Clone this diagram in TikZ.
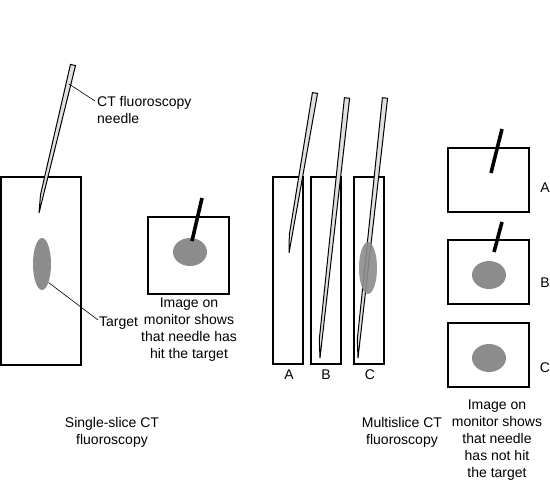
\documentclass[tikz,border=0pt]{standalone}
\usepackage{fontspec}
\setmainfont{Liberation Sans}
\usetikzlibrary{calc, shapes.geometric}

% needle drawn from its top end (#1) to its bevelled tip (#2)
\newcommand{\needle}[2]{%
  \coordinate (ntop) at (#1);
  \coordinate (ntip) at (#2);
  \coordinate (nbev) at ($(ntip)!18pt!(ntop)$);
  \draw[needlebody] ($(ntop)!2.6pt!90:(ntip)$) -- ($(ntop)!2.6pt!-90:(ntip)$)
    -- ($(nbev)!2.6pt!90:(ntop)$) -- (ntip) -- cycle;
}

\begin{document}
\begin{tikzpicture}[
  x=1pt, y=-1pt,
  font=\fontsize{14}{17}\selectfont,
  frame/.style={draw, line width=1.3pt},
  needlebody/.style={draw, line width=1pt, fill=black!12, line join=miter},
  shownneedle/.style={line width=3.6pt},
  bigtarget/.style={ellipse, fill=black!45, draw=none, inner sep=0pt,
    minimum width=18pt, minimum height=52pt},
  smalltarget/.style={ellipse, fill=black!45, draw=none, inner sep=0pt,
    minimum width=34pt, minimum height=28pt},
  caption/.style={align=center, inner sep=0pt},
  leader/.style={line width=0.6pt}
]
\useasboundingbox (0,0) rectangle (550,482);

% Single-slice CT fluoroscopy
\draw[frame] (1,177) rectangle (81,365);
\node[bigtarget] (tgt) at (42,264) {};
\needle{73,65}{39,213}
\coordinate (nlead) at (69,84);
\node[caption, align=left, anchor=west] (needlelab) at (97,109.5) {CT fluoroscopy\\needle};
\draw[leader] (nlead) -- ([xshift=-2pt, yshift=8.5pt]needlelab.west);
\node[caption, anchor=west] (tgtlab) at (99,323) {Target};
\draw[leader] (tgt.south east) -- ([xshift=-1pt, yshift=3pt]tgtlab.west);

% image on monitor (hit)
\draw[frame] (148,217) rectangle (229,294);
\node[smalltarget] (hit) at (190,252) {};
\draw[shownneedle] (202,198) -- (192,241);
\node[caption] (hitlab) at (189,330) {Image on\\monitor shows\\that needle has\\hit the target};

\node[caption] (singlelab) at (112,432.5) {Single-slice CT\\fluoroscopy};

% Multislice CT fluoroscopy
\draw[frame] (273,177) rectangle (303,364);
\draw[frame] (311,177) rectangle (341,364);
\draw[frame] (354,177) rectangle (384,364);
\needle{315,93}{289,253}
\needle{347,98}{320,358}
\needle{385,98}{358,358}
\node[bigtarget, fill opacity=0.9] (tgtc) at (368,268) {};
\node (sa) at (289,375) {A};
\node (sb) at (326,375) {B};
\node (sc) at (370,375) {C};

\node[caption] (multilab) at (402,432.5) {Multislice CT\\fluoroscopy};

% images on monitor (not hit)
\draw[frame] (448,148) rectangle (529,212);
\draw[shownneedle] (502,129) -- (491,173);
\node (ia) at (545,188) {A};

\draw[frame] (448,240) rectangle (529,304);
\node[smalltarget] (missb) at (489,275) {};
\draw[shownneedle] (502,222) -- (494,252);
\node (ib) at (545,283) {B};

\draw[frame] (448,323) rectangle (529,387);
\node[smalltarget] (missc) at (489,358) {};
\node (ic) at (545,368) {C};

\node[caption] (misslab) at (497,440) {Image on\\monitor shows\\that needle\\has not hit\\the target};
\end{tikzpicture}
\end{document}
